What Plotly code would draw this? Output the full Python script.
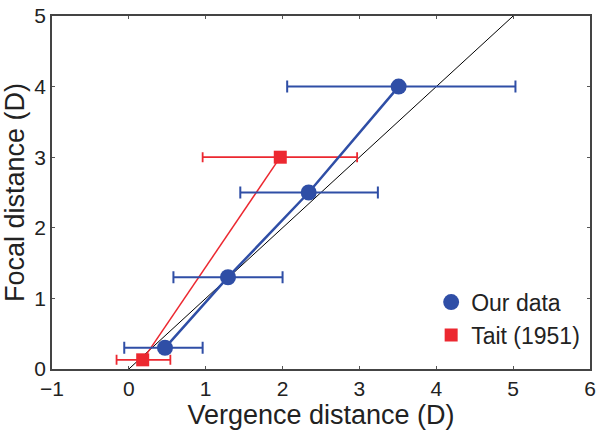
import plotly.graph_objects as go

# Data
our_x = [0.47, 1.29, 2.34, 3.51]
our_y = [0.30, 1.30, 2.50, 4.00]
our_xerr_minus = [0.53, 0.71, 0.89, 1.45]
our_xerr_plus = [0.49, 0.71, 0.90, 1.52]

tait_x = [0.18, 1.97]
tait_y = [0.13, 3.00]
tait_xerr_minus = [0.34, 1.01]
tait_xerr_plus = [0.36, 1.00]

diag_x = [0, 5]
diag_y = [0, 5]

BLUE = "#2f4ea6"
RED = "#ec2830"
FONT = "Liberation Sans, Arial, sans-serif"

fig = go.Figure()

fig.add_trace(go.Scatter(x=diag_x, y=diag_y, mode="lines",
                         line=dict(color="black", width=1), showlegend=False, hoverinfo="skip"))

fig.add_trace(go.Scatter(
    x=tait_x, y=tait_y, mode="lines+markers",
    line=dict(color=RED, width=1.5),
    marker=dict(symbol="square", size=13, color=RED),
    error_x=dict(type="data", symmetric=False, array=tait_xerr_plus,
                 arrayminus=tait_xerr_minus, color=RED, thickness=1.8, width=5),
    showlegend=False))

fig.add_trace(go.Scatter(
    x=our_x, y=our_y, mode="lines+markers",
    line=dict(color=BLUE, width=2.5),
    marker=dict(symbol="circle", size=16, color=BLUE),
    error_x=dict(type="data", symmetric=False, array=our_xerr_plus,
                 arrayminus=our_xerr_minus, color=BLUE, thickness=2, width=6),
    showlegend=False))

# legend-only entries (markers only)
fig.add_trace(go.Scatter(x=[None], y=[None], mode="markers", name="Our data",
                         marker=dict(symbol="circle", size=16, color=BLUE)))
fig.add_trace(go.Scatter(x=[None], y=[None], mode="markers", name="Tait (1951)",
                         marker=dict(symbol="square", size=13, color=RED)))

axis_common = dict(
    showline=True, mirror="ticks", linecolor="#444444", linewidth=1.5,
    ticks="inside", ticklen=3, tickwidth=1, tickcolor="#555555",
    showgrid=False, zeroline=False, automargin=False,
    tickfont=dict(family=FONT, size=21, color="#222222"),
    title_font=dict(family=FONT, size=27, color="#222222"),
)

fig.update_xaxes(range=[-1, 6], tickmode="array", tickvals=[-1, 0, 1, 2, 3, 4, 5, 6],
                 title_text="Vergence distance (D)", title_standoff=2,
                 ticklabelstandoff=0, **axis_common)
fig.update_yaxes(range=[0, 5], tickmode="array", tickvals=[0, 1, 2, 3, 4, 5],
                 title_text="Focal distance (D)", title_standoff=2,
                 ticklabelstandoff=0, **axis_common)

fig.update_layout(
    width=601, height=434,
    margin=dict(l=52, r=11, t=16, b=65),
    plot_bgcolor="white", paper_bgcolor="white",
    font=dict(family=FONT, color="#222222"),
    legend=dict(x=0.991, y=0.035, xanchor="right", yanchor="bottom",
                bgcolor="rgba(0,0,0,0)", font=dict(family=FONT, size=23, color="#222222"),
                itemwidth=30, tracegroupgap=0),
)

fig.write_html("out.html", config={"displayModeBar": False},
               post_script="document.body.style.margin='0';")
